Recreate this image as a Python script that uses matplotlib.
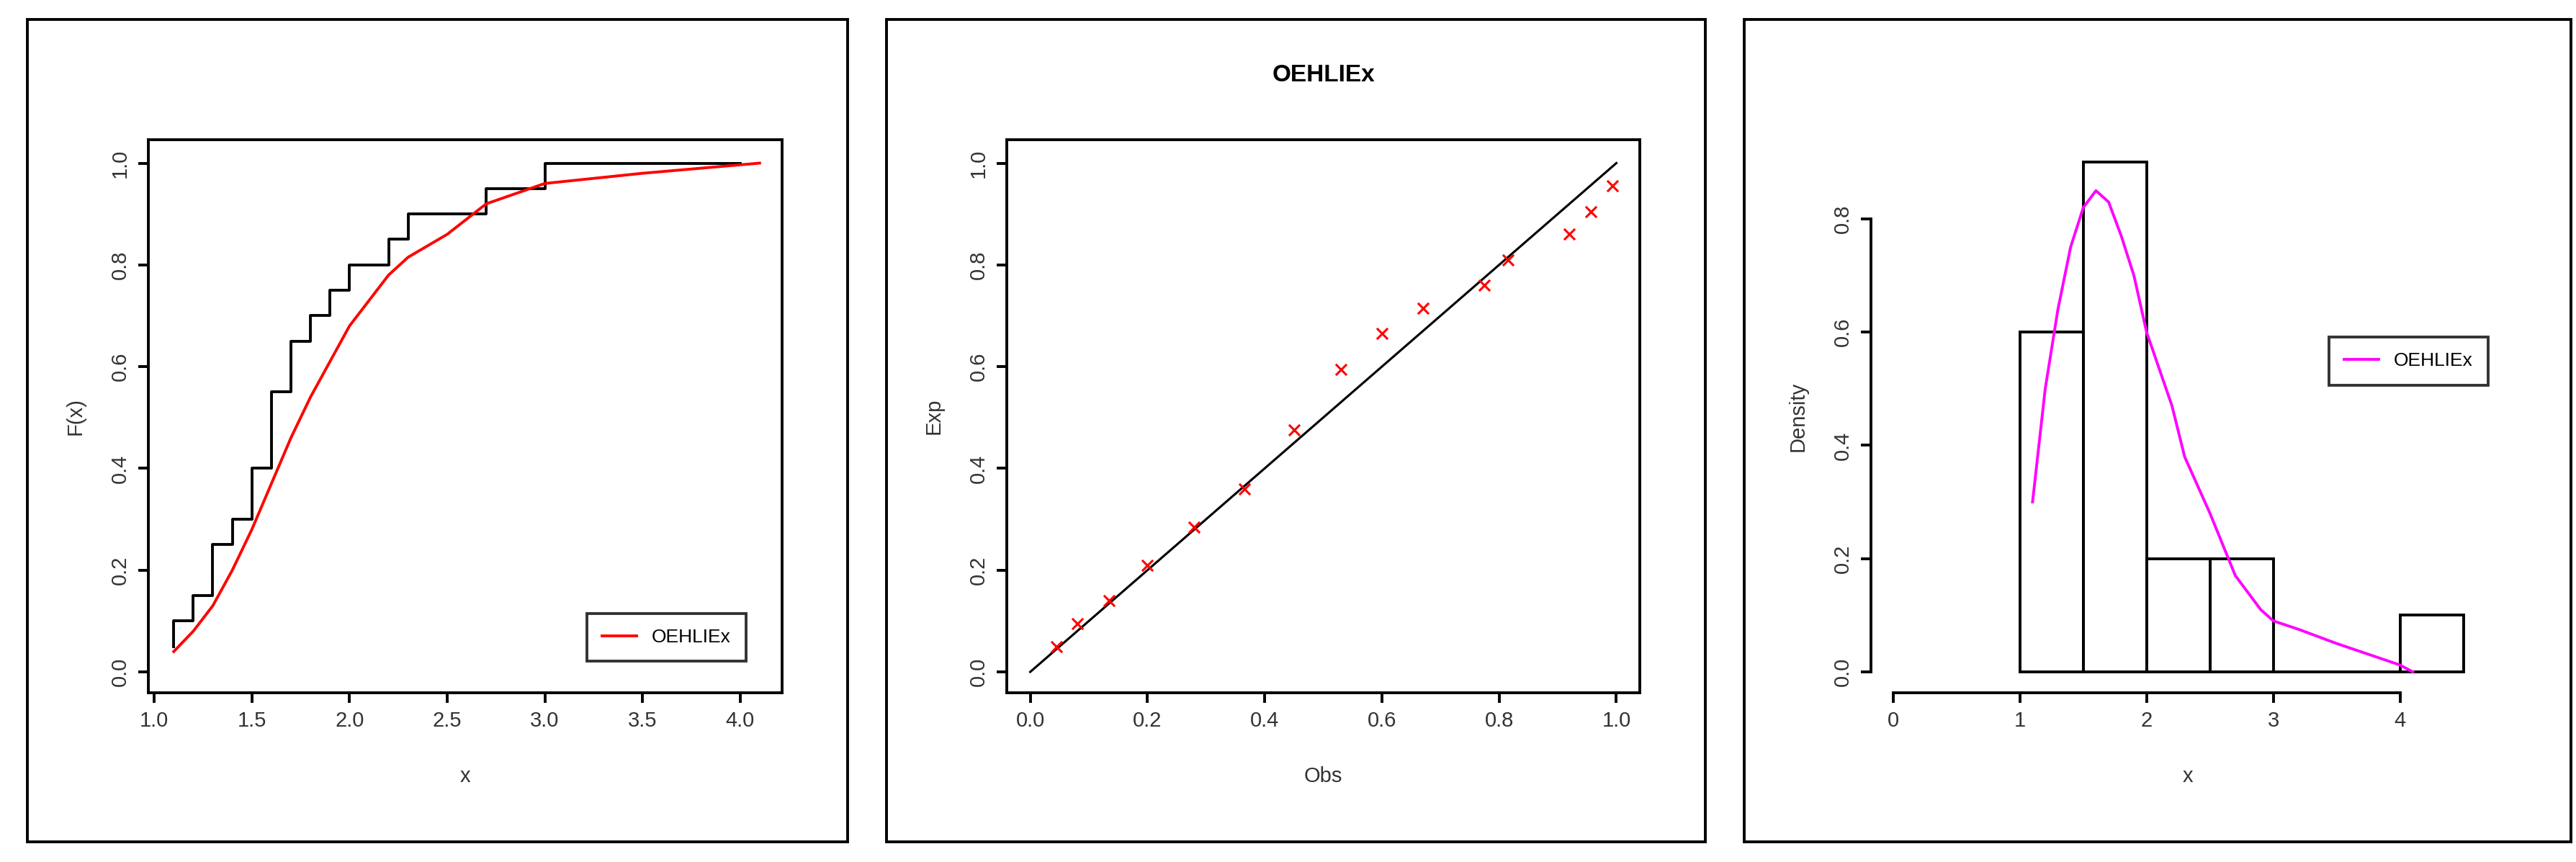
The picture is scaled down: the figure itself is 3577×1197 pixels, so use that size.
import matplotlib
matplotlib.use('Agg')
from matplotlib import pyplot as plt
from matplotlib.patches import Rectangle

W, H = 3577, 1197

# panel 1: empirical cdf vs fitted cdf
ecdf_x = [1.1, 1.1, 1.2, 1.3, 1.4, 1.5, 1.6, 1.7, 1.8, 1.9, 2.0, 2.2, 2.3, 2.7, 3.0, 4.0]
ecdf_y = [0.05, 0.1, 0.15, 0.25, 0.3, 0.4, 0.55, 0.65, 0.7, 0.75, 0.8, 0.85, 0.9, 0.95, 1.0, 1.0]
cdf_x = [1.1, 1.2, 1.3, 1.4, 1.5, 1.6, 1.7, 1.8, 1.9, 2.0, 2.1, 2.2, 2.3, 2.5, 2.7, 3.0, 3.5, 4.1]
cdf_y = [0.04, 0.08, 0.13, 0.2, 0.28, 0.37, 0.46, 0.54, 0.61, 0.68, 0.73, 0.78, 0.815, 0.86, 0.92, 0.96, 0.98, 1.0]

# panel 2: PP plot
obs = [0.045, 0.08, 0.135, 0.2, 0.28, 0.365, 0.45, 0.53, 0.6, 0.67, 0.775, 0.815, 0.92, 0.957, 0.993]
exp_ = [0.05, 0.095, 0.14, 0.21, 0.285, 0.36, 0.475, 0.595, 0.665, 0.715, 0.76, 0.81, 0.86, 0.905, 0.955]

# panel 3: histogram + fitted density
bin_edges = [1.0, 1.5, 2.0, 2.5, 3.0, 3.5, 4.0, 4.5]
bin_dens = [0.6, 0.9, 0.2, 0.2, 0.0, 0.0, 0.1]
pdf_x = [1.1, 1.2, 1.3, 1.4, 1.5, 1.6, 1.7, 1.8, 1.9, 2.0, 2.2, 2.3, 2.5, 2.7, 2.9, 3.0, 3.2, 3.5, 4.0, 4.1]
pdf_y = [0.3, 0.5, 0.64, 0.75, 0.82, 0.85, 0.83, 0.77, 0.7, 0.6, 0.47, 0.38, 0.28, 0.17, 0.11, 0.09, 0.075, 0.05, 0.012, 0.0]

plt.rcParams['font.family'] = ['Liberation Sans', 'DejaVu Sans']
TXT = '#333333'
FS = 21
LW = 2.8

fig = plt.figure(figsize=(W / 100, H / 100), dpi=100)


def px_axes(x0, x1, y0, y1):
    return fig.add_axes([x0 / W, 1 - y1 / H, (x1 - x0) / W, (y1 - y0) / H])


def frame(x0, x1, y0, y1):
    fig.add_artist(Rectangle((x0 / W, 1 - y1 / H), (x1 - x0) / W, (y1 - y0) / H,
                             transform=fig.transFigure, fill=False, lw=LW, ec='black'))


def style(ax):
    for s in ax.spines.values():
        s.set_linewidth(LW)
    ax.tick_params(width=LW, length=10, labelsize=FS, labelcolor=TXT, pad=8)
    for lab in ax.get_yticklabels():
        lab.set_rotation(90)
        lab.set_va('center')


frame(38, 1177, 27, 1169)
frame(1231, 2368, 27, 1169)
frame(2422, 3570, 27, 1169)

# panel 1
ax1 = px_axes(206, 1086, 194, 962)
ax1.plot(ecdf_x, ecdf_y, color='black', lw=LW, drawstyle='steps-post')
ax1.plot(cdf_x, cdf_y, color='red', lw=LW, label='OEHLIEx')
ax1.set_xlim(0.97, 4.215)
ax1.set_ylim(-0.041, 1.046)
ax1.set_xticks([1.0, 1.5, 2.0, 2.5, 3.0, 3.5, 4.0])
ax1.set_yticks([0.0, 0.2, 0.4, 0.6, 0.8, 1.0])
ax1.set_xlabel('x', fontsize=FS, color=TXT, labelpad=35)
ax1.set_ylabel('F(x)', fontsize=FS, color=TXT, labelpad=25)
style(ax1)
leg = ax1.legend(loc='lower right', fontsize=FS - 2, frameon=True, fancybox=False,
                 edgecolor='black', bbox_to_anchor=(0.958, 0.04), handlelength=1.8,
                 borderpad=0.8)
leg.get_frame().set_linewidth(LW)

# panel 2
ax2 = px_axes(1398, 2277, 194, 962)
ax2.plot([0, 1], [0, 1], color='black', lw=LW * 0.8)
ax2.scatter(obs, exp_, marker='x', color='red', s=120, linewidths=2.2, zorder=3)
ax2.set_xlim(-0.04, 1.04)
ax2.set_ylim(-0.041, 1.046)
ax2.set_xticks([0.0, 0.2, 0.4, 0.6, 0.8, 1.0])
ax2.set_yticks([0.0, 0.2, 0.4, 0.6, 0.8, 1.0])
ax2.set_xlabel('Obs', fontsize=FS, color=TXT, labelpad=35)
ax2.set_ylabel('Exp', fontsize=FS, color=TXT, labelpad=25)
ax2.set_title('OEHLIEx', fontsize=FS + 3, fontweight='bold', pad=58)
style(ax2)

# panel 3
ax3 = px_axes(2598, 3477, 194, 962)
ax3.bar(bin_edges[:-1], bin_dens, width=0.5, align='edge', fill=False,
        edgecolor='black', linewidth=LW)
ax3.plot(pdf_x, pdf_y, color='magenta', lw=LW, label='OEHLIEx')
ax3.set_xlim(-0.175, 4.82)
ax3.set_ylim(-0.037, 0.94)
ax3.set_xticks([0, 1, 2, 3, 4])
ax3.set_yticks([0.0, 0.2, 0.4, 0.6, 0.8])
ax3.set_xlabel('x', fontsize=FS, color=TXT, labelpad=35)
ax3.set_ylabel('Density', fontsize=FS, color=TXT, labelpad=25)
ax3.spines['top'].set_visible(False)
ax3.spines['right'].set_visible(False)
ax3.spines['left'].set_bounds(0, 0.8)
ax3.spines['bottom'].set_bounds(0, 4)
style(ax3)
leg3 = ax3.legend(loc='upper right', fontsize=FS - 2, frameon=True, fancybox=False,
                  edgecolor='black', bbox_to_anchor=(0.99, 0.66), handlelength=1.8,
                  borderpad=0.8)
leg3.get_frame().set_linewidth(LW)

fig.savefig('out.png', dpi=100)
